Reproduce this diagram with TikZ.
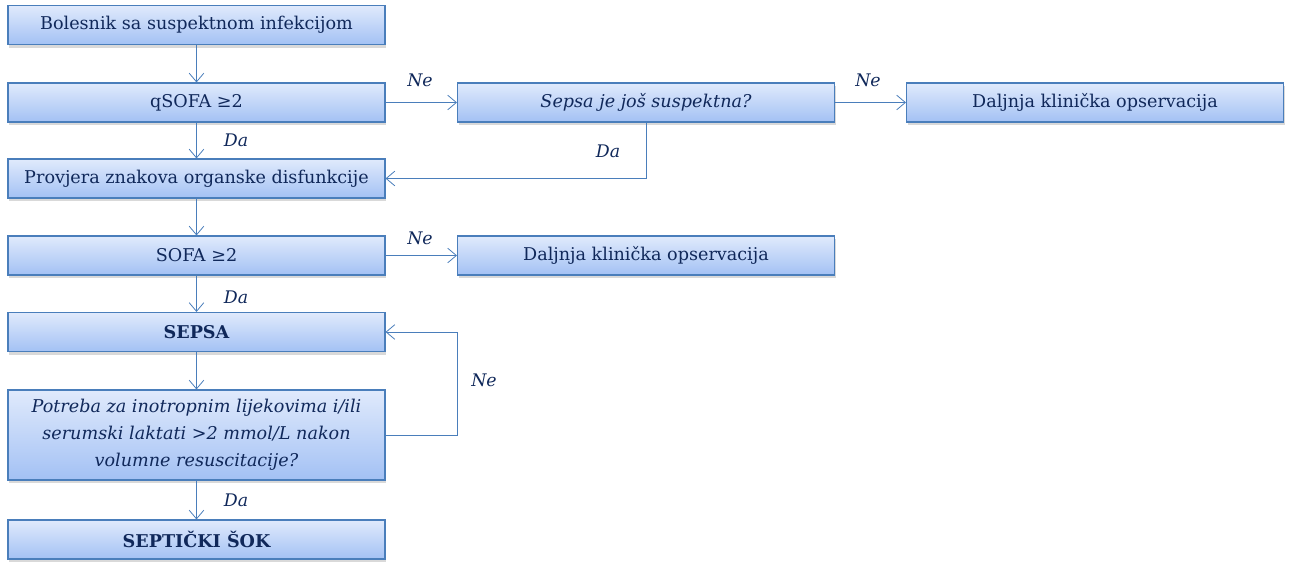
\documentclass[tikz,border=0pt]{standalone}
\usepackage{fontspec}
\setmainfont{DejaVu Serif}
\usetikzlibrary{arrows.meta,shadows,calc}
\definecolor{boxline}{HTML}{4A7EBB}
\definecolor{boxtop}{HTML}{E0EAFC}
\definecolor{boxbot}{HTML}{A3C1F4}
\definecolor{txt}{HTML}{10285A}
\tikzset{
  fbox/.style={draw=boxline, line width=0.8pt, top color=boxtop, bottom color=boxbot,
    minimum width=282.75pt, minimum height=29.25pt, inner sep=2pt, text=txt,
    font=\fontsize{13.2}{16}\selectfont,
    drop shadow={shadow xshift=1pt, shadow yshift=-2.5pt, opacity=0.3, fill=gray}},
  conn/.style={draw=boxline, line width=0.75pt, -{Straight Barb[length=6.5pt,width=11pt,line width=0.6pt]}},
  lbl/.style={text=txt, font=\fontsize{13}{15}\selectfont\itshape, inner sep=1pt}
}
\begin{document}
\begin{tikzpicture}[x=0.75pt,y=-0.75pt]
\useasboundingbox (0,0) rectangle (1292,574);
\node[fbox] (b1) at (196.5,25) {Bolesnik sa suspektnom infekcijom};
\node[fbox] (b2) at (196.5,102.5) {qSOFA ≥2};
\node[fbox] (b3) at (196.5,178.5) {Provjera znakova organske disfunkcije};
\node[fbox] (b4) at (196.5,255.5) {SOFA ≥2};
\node[fbox] (b5) at (196.5,332) {\bfseries SEPSA};
\node[fbox, minimum height=67.5pt, align=center, font=\fontsize{13.2}{20.3}\selectfont\itshape] (b6) at (196.5,435)
  {Potreba za inotropnim lijekovima i/ili\\serumski laktati >2 mmol/L nakon\\volumne resuscitacije?};
\node[fbox] (b7) at (196.5,539.5) {\bfseries SEPTIČKI ŠOK};
\node[fbox, font=\fontsize{13.2}{16}\selectfont\itshape] (s1) at (646,102.5) {Sepsa je još suspektna?};
\node[fbox] (d1) at (1095,102.5) {Daljnja klinička opservacija};
\node[fbox] (d2) at (646,255.5) {Daljnja klinička opservacija};
\coordinate (lp) at (457,435);

\draw[conn] (b1.south) -- (b2.north);
\draw[conn] (b2.east) -- (s1.west);
\draw[conn] (s1.east) -- (d1.west);
\draw[conn] (s1.south) |- (b3.east);
\draw[conn] (b2.south) -- (b3.north);
\draw[conn] (b3.south) -- (b4.north);
\draw[conn] (b4.east) -- (d2.west);
\draw[conn] (b4.south) -- (b5.north);
\draw[conn] (b5.south) -- (b6.north);
\draw[conn] (b6.east) -- (lp) |- (b5.east);
\draw[conn] (b6.south) -- (b7.north);

\node[lbl] (l1) at (420,80) {Ne};
\node[lbl] (l2) at (868,80) {Ne};
\node[lbl] (l3) at (236,140) {Da};
\node[lbl] (l4) at (608,151) {Da};
\node[lbl] (l5) at (420,238) {Ne};
\node[lbl] (l6) at (236,297) {Da};
\node[lbl] (l7) at (484,380) {Ne};
\node[lbl] (l8) at (236,500) {Da};
\end{tikzpicture}
\end{document}
